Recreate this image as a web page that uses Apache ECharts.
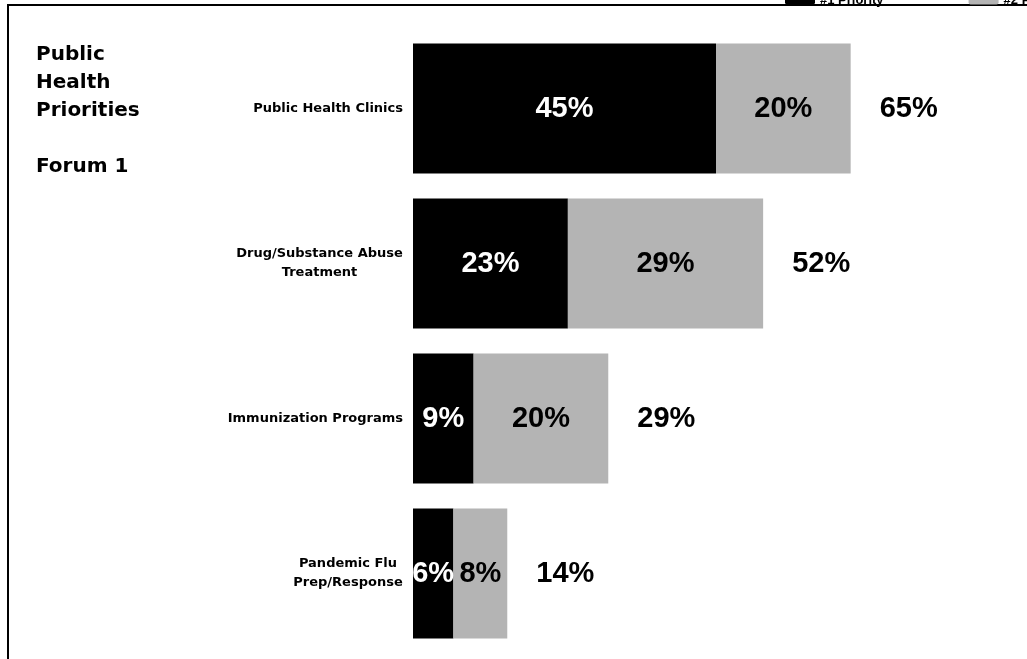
<!DOCTYPE html>
<html>
<head>
<meta charset="utf-8">
<script src="https://cdn.jsdelivr.net/npm/echarts@6/dist/echarts.min.js"></script>
<style>html,body{margin:0;padding:0;background:#fff;}#c{width:1027px;height:659px;}</style>
</head>
<body>
<div id="c"></div>
<script>
const categories = ['Public Health Clinics', 'Drug/Substance Abuse\nTreatment', 'Immunization Programs', 'Pandemic Flu\nPrep/Response'];
const priority1 = [45, 23, 9, 6];
const priority2 = [20, 29, 20, 8];
const totals = [65, 52, 29, 14];
const seriesNames = ['#1 Priority', '#2 Priority'];

const chart = echarts.init(document.getElementById('c'));
const FONT = '"Liberation Sans", Arial, sans-serif';
const CAT_FONT = '"DejaVu Sans", "Liberation Sans", Arial, sans-serif';
const CAT_SIZE = 13;

// measure multi-line category labels so lines can be centred within a right-aligned block
const ctx = document.createElement('canvas').getContext('2d');
ctx.font = 'bold ' + CAT_SIZE + 'px ' + CAT_FONT;
const rich = {};
categories.forEach((c, i) => {
  const lines = c.split('\n');
  const w = Math.ceil(Math.max.apply(null, lines.map(l => ctx.measureText(l).width)));
  rich['c' + i] = { width: w, align: 'center', fontFamily: CAT_FONT, fontSize: CAT_SIZE, fontWeight: 'bold', color: '#000', lineHeight: 19 };
});

chart.setOption({
  animation: false,
  backgroundColor: '#fff',
  title: {
    text: 'Public\nHealth\nPriorities\n\nForum 1',
    left: 31, top: 36,
    textStyle: { fontFamily: CAT_FONT, fontWeight: 'bold', fontSize: 20, lineHeight: 28, color: '#000' }
  },
  legend: {
    data: seriesNames,
    left: 780, top: -11, width: 500,
    itemWidth: 30, itemHeight: 8, itemGap: 85,
    textStyle: { fontFamily: FONT, fontSize: 13, fontWeight: 'bold', color: '#000' }
  },
  graphic: [
    { type: 'polyline', shape: { points: [[8, 659], [8, 5], [1027, 5]] }, style: { stroke: '#000', lineWidth: 2, fill: null } }
  ],
  grid: { left: 413, top: 31, width: 606, height: 620, containLabel: false },
  xAxis: { type: 'value', min: 0, max: 90, show: false },
  yAxis: {
    type: 'category', data: categories, inverse: true,
    axisLine: { show: false }, axisTick: { show: false }, splitLine: { show: false },
    axisLabel: {
      margin: 10, fontFamily: CAT_FONT, fontSize: CAT_SIZE, fontWeight: 'bold', color: '#000', lineHeight: 19, align: 'right',
      formatter: function (v, i) {
        const lines = v.split('\n');
        if (lines.length === 1) return v;
        return lines.map(l => '{c' + i + '|' + l + '}').join('\n');
      },
      rich: rich
    }
  },
  series: [
    {
      name: seriesNames[0], type: 'bar', stack: 's', data: priority1, barWidth: 130,
      itemStyle: { color: '#000' },
      label: { show: true, position: 'inside', formatter: '{c}%', fontFamily: FONT, fontSize: 29, fontWeight: 'bold', color: '#fff' }
    },
    {
      name: seriesNames[1], type: 'bar', stack: 's', data: priority2, barWidth: 130,
      itemStyle: { color: '#b4b4b4' },
      label: { show: true, position: 'inside', formatter: '{c}%', fontFamily: FONT, fontSize: 29, fontWeight: 'bold', color: '#000' }
    },
    {
      name: 'Total', type: 'scatter', symbolSize: 0,
      itemStyle: { opacity: 1, color: '#000' },
      data: totals.map((t, i) => [t, categories[i]]),
      label: { show: true, position: 'right', distance: 29, formatter: p => p.value[0] + '%', fontFamily: FONT, fontSize: 29, fontWeight: 'bold', color: '#000', opacity: 1 }
    }
  ]
});
</script>
</body>
</html>
